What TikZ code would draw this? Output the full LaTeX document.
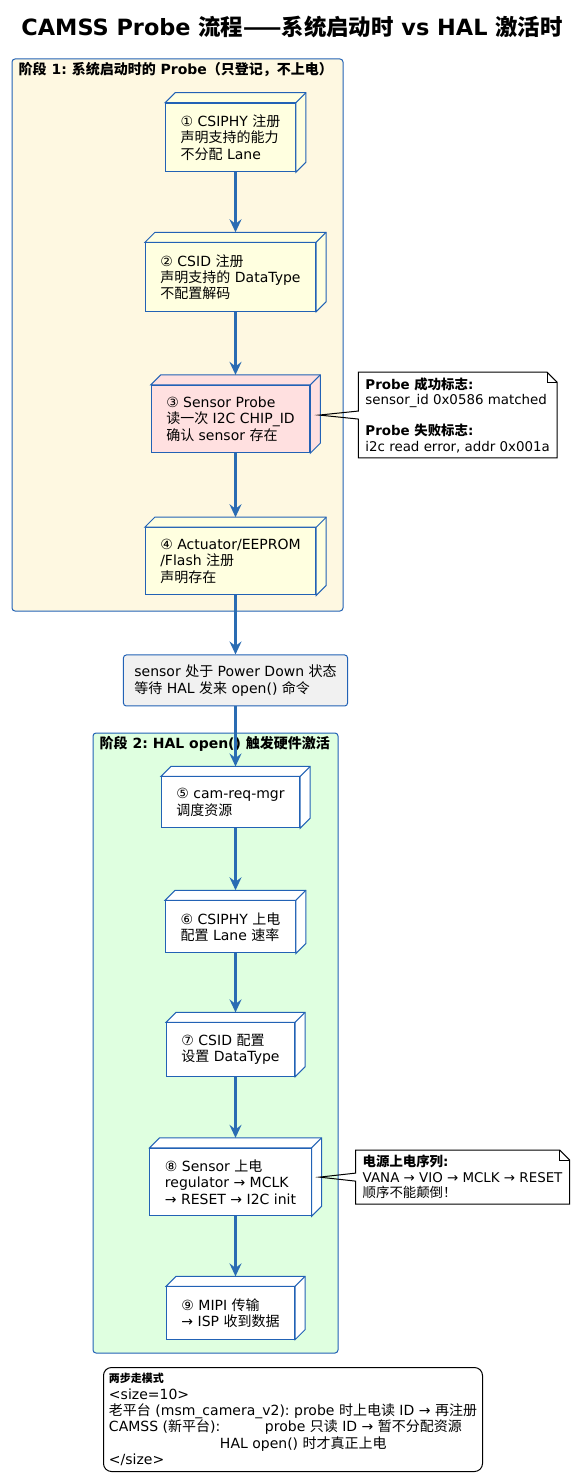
\documentclass[tikz,border=0pt]{standalone}
\usepackage{fontspec}
\setmainfont{DejaVu Sans}
\newfontfamily\cjk{Noto Sans CJK SC}
\newcommand\zh[1]{{\cjk #1}}
\frenchspacing
\usetikzlibrary{arrows.meta,positioning,fit}
\definecolor{edgeblue}{HTML}{2262B5}
\definecolor{flowblue}{HTML}{2A6CB3}
\definecolor{stageyel}{HTML}{FEF8E1}
\definecolor{stagegrn}{HTML}{DFFFE0}
\definecolor{yelnode}{HTML}{FFFFE0}
\definecolor{pinknode}{HTML}{FFE0E0}
\definecolor{waitgray}{HTML}{F1F1F1}
\tikzset{%
  stage/.style={rectangle,draw=edgeblue,line width=1pt,rounded corners=3pt,inner sep=0pt},
  stagelabel/.style={anchor=north west,inner xsep=7pt,inner ysep=4pt,font=\fontsize{14}{16}\selectfont\bfseries},
  cube/.style={rectangle,draw=edgeblue,line width=1pt,align=left,inner xsep=15pt,inner ysep=11.5pt,font=\fontsize{14}{16.3}\selectfont},
  waitbox/.style={rectangle,draw=edgeblue,fill=waitgray,line width=1pt,rounded corners=3pt,align=left,inner xsep=11pt,inner ysep=10pt,font=\fontsize{14}{16.3}\selectfont},
  note/.style={rectangle,align=left,inner xsep=7pt,inner ysep=5pt,font=\fontsize{13.4}{15.5}\selectfont},
  noteline/.style={draw=black,line width=1pt,line join=miter},
  legend/.style={rectangle,draw=black,line width=1pt,rounded corners=8pt,align=left,inner sep=5pt,font=\fontsize{14}{16.3}\selectfont},
  flow/.style={draw=flowblue,line width=2.2pt,-{Stealth[length=13pt,width=12pt,inset=4.5pt]}}%
}

\begin{document}
\begin{tikzpicture}[x=1pt,y=1pt]
    \useasboundingbox (0,0) rectangle (584,-1482);

    \node (title) [font=\fontsize{22.4}{26}\selectfont\bfseries] at (292,-27)
      {CAMSS Probe \zh{流程——系统启动时} vs HAL \zh{激活时}};

    % stage boxes
    \node (stage1) [stage, fill=stageyel, fit={(12,-59) (343,-611)}] {};
    \node (stage2) [stage, fill=stagegrn, fit={(93,-733) (338,-1353)}] {};
    \node (stage1label) [stagelabel] at (stage1.north west)
      {\zh{阶段} 1: \zh{系统启动时的} Probe\zh{（只登记，不上电）}};
    \node (stage2label) [stagelabel] at (stage2.north west)
      {\zh{阶段} 2: HAL open() \zh{触发硬件激活}};

    % stage 1
    \node (csiphy) [cube, fill=yelnode] at (230.5,-137.5)
      {① CSIPHY \zh{注册}\\\zh{声明支持的能力}\\\zh{不分配} Lane};
    \node (csid) [cube, fill=yelnode, below=70pt of csiphy]
      {② CSID \zh{注册}\\\zh{声明支持的} DataType\\\zh{不配置解码}};
    \node (sensor) [cube, fill=pinknode, below=73pt of csid]
      {③ Sensor Probe\\\zh{读一次} I2C CHIP\_ID\\\zh{确认} sensor \zh{存在}};
    \node (actuator) [cube, fill=yelnode, below=74pt of sensor]
      {④ Actuator/EEPROM\\/Flash \zh{注册}\\\zh{声明存在}};

    \node (standby) [waitbox, below=59pt of actuator, xshift=5pt]
      {sensor \zh{处于} Power Down \zh{状态}\\\zh{等待} HAL \zh{发来} open() \zh{命令}};

    % stage 2
    \node (crm) [cube, fill=white, below=70pt of standby, xshift=-5pt]
      {⑤ cam-req-mgr\\\zh{调度资源}};
    \node (phyon) [cube, fill=white, below=72pt of crm]
      {⑥ CSIPHY \zh{上电}\\\zh{配置} Lane \zh{速率}};
    \node (csidcfg) [cube, fill=white, below=69pt of phyon]
      {⑦ CSID \zh{配置}\\\zh{设置} DataType};
    \node (sensoron) [cube, fill=white, below=71pt of csidcfg]
      {⑧ Sensor \zh{上电}\\regulator → MCLK\\→ RESET → I2C init};
    \node (mipi) [cube, fill=white, below=70pt of sensoron]
      {⑨ MIPI \zh{传输}\\→ ISP \zh{收到数据}};

    % depth faces of the boxes
    \foreach \n/\c in {csiphy/yelnode, csid/yelnode, sensor/pinknode, actuator/yelnode,
                       crm/white, phyon/white, csidcfg/white, sensoron/white, mipi/white} {
      \draw[draw=edgeblue, line width=1pt, fill=\c] (\n.north west) -- ([shift={(10,10)}]\n.north west)
        -- ([shift={(10,10)}]\n.north east) -- ([shift={(10,10)}]\n.south east)
        -- (\n.south east) -- (\n.north east) -- cycle;
      \draw[draw=edgeblue, line width=1pt] (\n.north east) -- ([shift={(10,10)}]\n.north east);
    }

    % notes
    \node (probenote) [note, right=48pt of sensor, yshift=4pt]
      {\textbf{Probe \zh{成功标志}:}\\sensor\_id 0x0586 matched\\[15.5pt]\textbf{Probe \zh{失败标志}:}\\i2c read error, addr 0x001a};
    \node (powernote) [note, right=44pt of sensoron, yshift=5pt]
      {\textbf{\zh{电源上电序列}:}\\VANA → VIO → MCLK → RESET\\\zh{顺序不能颠倒！}};
    \coordinate (probetip) at ([xshift=9pt,yshift=4pt]sensor.east);
    \coordinate (powertip) at ([xshift=8pt,yshift=5pt]sensoron.east);
    \foreach \n/\t in {probenote/probetip, powernote/powertip} {
      \draw[noteline] ([yshift=4pt]\n.west) -- (\n.north west) -- ([xshift=-10pt]\n.north east)
        -- ([yshift=-10pt]\n.north east) -- (\n.south east) -- (\n.south west)
        -- ([yshift=-4pt]\n.west) -- (\t) -- cycle;
      \draw[noteline] ([xshift=-10pt]\n.north east) |- ([yshift=-10pt]\n.north east);
    }

    % arrows
    \foreach \a/\b in {csiphy/csid, csid/sensor, sensor/actuator,
                       crm/phyon, phyon/csidcfg, csidcfg/sensoron, sensoron/mipi}
      \draw[flow] ([xshift=5pt]\a.south) -- ([xshift=5pt,yshift=10pt]\b.north);
    \draw[flow] ([xshift=5pt]actuator.south) -- (standby.north);
    \draw[flow] (standby.south) -- ([xshift=5pt,yshift=10pt]crm.north);

    % legend
    \node (twostep) [legend, anchor=north west, minimum width=379pt, minimum height=104pt] at (103,-1367)
      {{\fontsize{11}{13}\selectfont\bfseries\zh{两步走模式}}\\
       <size=10>\\
       \zh{老平台} (msm\_camera\_v2): probe \zh{时上电读} ID → \zh{再注册}\\
       \makebox[156pt][l]{CAMSS (\zh{新平台}):}probe \zh{只读} ID → \zh{暂不分配资源}\\
       \hspace*{111pt}HAL open() \zh{时才真正上电}\\
       </size>};

  \end{tikzpicture}
\end{document}
